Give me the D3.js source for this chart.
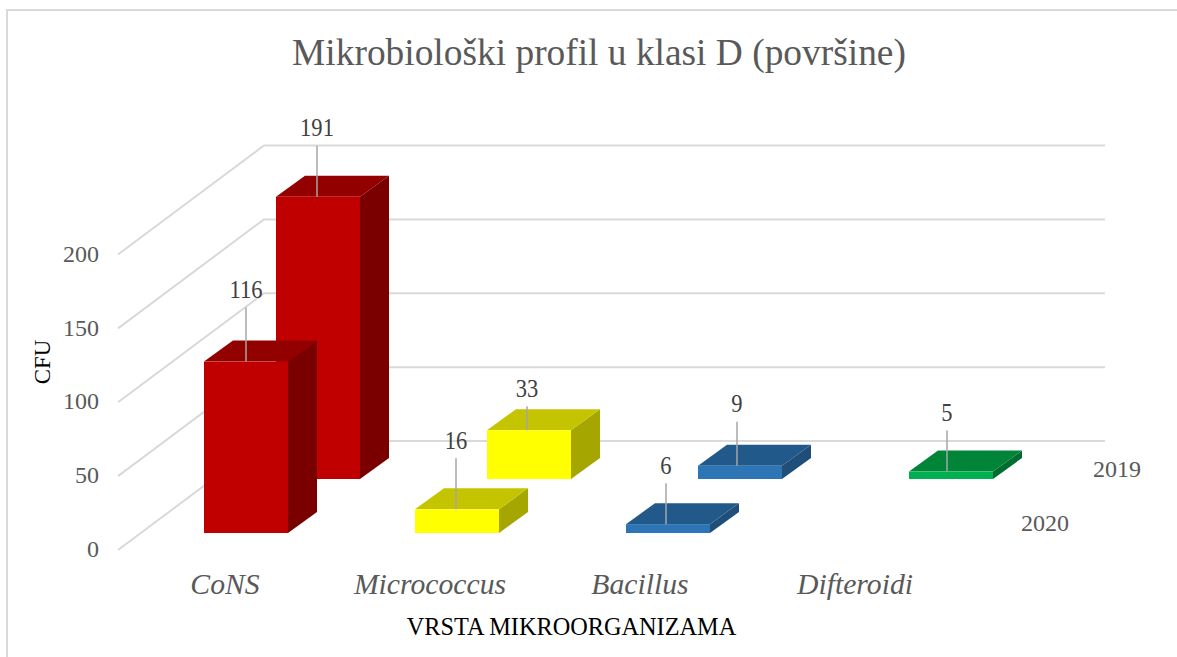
<!DOCTYPE html>
<html><head><meta charset="utf-8">
<script src="https://cdn.jsdelivr.net/npm/d3@7"></script>
<style>
html,body{margin:0;padding:0;background:#fff;overflow:hidden}
svg{display:block}
text{font-family:"Liberation Serif","Times New Roman",serif}
</style></head><body>
<svg id="c" width="1177" height="657"></svg>
<script>
// ---- data ----
const categories = ["CoNS", "Micrococcus", "Bacillus", "Difteroidi"];
const seriesNames = ["2020", "2019"];
const values2020 = [116, 16, 6, null];
const values2019 = [191, 33, 9, 5];
const yTicks = [0, 50, 100, 150, 200];
const faceColors = ["#c00000", "#ffff00", "#2e75b6", "#00b050"];
const topColors = ["#920000", "#c4c400", "#215a8a", "#008538"];
const sideColors = ["#7a0000", "#a6a600", "#1f4e79", "#006c2e"];
// hand-placed label leaders, as in the source chart
const leader2020 = [54, 51, 41, null];
const leader2019 = [51, 24, 44, 41];
const catLabelNudge = [-21, -27, -28, -24];

// ---- layout ----
const svg = d3.select("#c");
const barW = 84, depthX = 29, depthY = 21, rowDX = 72, rowDY = 54, floorY = 533;
const xCat = d3.scalePoint().domain(categories).range([204, 837]);
const zRow = d3.scalePoint().domain(seriesNames).range([0, 1]);
const h = d3.scaleLinear().domain([0, 200]).range([0, 295.5]);
const gridFront = {x: 118, y: 550}, gridBack = {x: 264, y: 441}, gridRight = 1105;
const grey = "#595959", gridCol = "#d9d9d9";

// chart frame
svg.append("path").attr("d", "M7,657V10H1177").attr("fill", "none").attr("stroke", gridCol).attr("stroke-width", 2);

// title
svg.append("text").attr("x", 599).attr("y", 65).attr("text-anchor", "middle")
  .attr("font-size", 37.4).attr("fill", grey).text("Mikrobiološki profil u klasi D (površine)");

// grid
svg.append("g").selectAll("path").data(yTicks).join("path")
  .attr("d", v => d3.line()([[gridFront.x, gridFront.y - h(v)], [gridBack.x, gridBack.y - h(v)], [gridRight, gridBack.y - h(v)]]))
  .attr("fill", "none").attr("stroke", gridCol).attr("stroke-width", 2);

// y axis labels
const yAxisScale = d3.scaleLinear().domain([0, 200]).range([gridFront.y, gridFront.y - h(200)]);
const yAxis = svg.append("g").attr("transform", "translate(99,-1)")
  .call(d3.axisLeft(yAxisScale).tickValues(yTicks).tickSize(0).tickPadding(0));
yAxis.select(".domain").remove();
yAxis.selectAll("text").attr("font-family", '"Liberation Serif",serif').attr("font-size", 24).attr("fill", grey);

// bars, back row first
const rows = [
  {name: "2019", vals: values2019, lead: leader2019},
  {name: "2020", vals: values2020, lead: leader2020}
];
const px = (c, r) => xCat(c) + rowDX * zRow(r);
const py = r => floorY - rowDY * zRow(r);
rows.forEach(row => {
  const g = svg.append("g");
  const d = categories.map((c, i) => ({c, i, v: row.vals[i]})).filter(e => e.v !== null);
  const x0 = e => px(e.c, row.name), yB = py(row.name), yT = e => yB - h(e.v);
  g.selectAll(".side").data(d).join("path").attr("fill", e => sideColors[e.i])
    .attr("d", e => `M${x0(e) + barW},${yB}l${depthX},${-depthY}V${yT(e) - depthY}l${-depthX},${depthY}Z`);
  g.selectAll(".top").data(d).join("path").attr("fill", e => topColors[e.i])
    .attr("d", e => `M${x0(e)},${yT(e)}l${depthX},${-depthY}h${barW}l${-depthX},${depthY}Z`);
  g.selectAll(".front").data(d).join("rect").attr("fill", e => faceColors[e.i])
    .attr("x", x0).attr("y", yT).attr("width", barW).attr("height", e => h(e.v));
});
// leaders + value labels on top
rows.forEach(row => {
  const g = svg.append("g");
  const d = categories.map((c, i) => ({c, i, v: row.vals[i], l: row.lead[i]})).filter(e => e.v !== null);
  const lx = e => px(e.c, row.name) + barW / 2 - e.i - zRow(row.name);
  const yT = e => py(row.name) - h(e.v);
  g.selectAll("line").data(d).join("line")
    .attr("x1", lx).attr("x2", lx).attr("y1", yT).attr("y2", e => yT(e) - e.l)
    .attr("stroke", "#a6a6a6").attr("stroke-width", 1.5);
  g.selectAll("text").data(d).join("text")
    .attr("transform", e => `translate(${lx(e)},${yT(e) - e.l - 9.5}) scale(0.92,1)`)
    .attr("text-anchor", "middle")
    .attr("font-size", 24.5).attr("fill", "#404040").text(e => e.v);
});

// category labels
svg.append("g").selectAll("text").data(categories).join("text")
  .attr("x", (c, i) => xCat(c) + barW / 2 + catLabelNudge[i]).attr("y", 593.5).attr("text-anchor", "middle")
  .attr("font-size", 29.7).attr("font-style", "italic").attr("fill", grey).text(c => c);

// series labels
svg.append("g").selectAll("text").data(seriesNames).join("text")
  .attr("x", s => 1045 + rowDX * zRow(s)).attr("y", s => 530.5 - rowDY * zRow(s)).attr("text-anchor", "middle")
  .attr("font-size", 24).attr("fill", grey).text(s => s);

// axis titles
svg.append("text").attr("x", 571.5).attr("y", 635).attr("text-anchor", "middle")
  .attr("font-size", 24.3).attr("fill", "#000").text("VRSTA MIKROORGANIZAMA");
svg.append("text").attr("transform", "translate(49.5,362) rotate(-90) scale(0.95,1)").attr("text-anchor", "middle")
  .attr("font-size", 24).attr("fill", "#000").text("CFU");
</script>
</body></html>
